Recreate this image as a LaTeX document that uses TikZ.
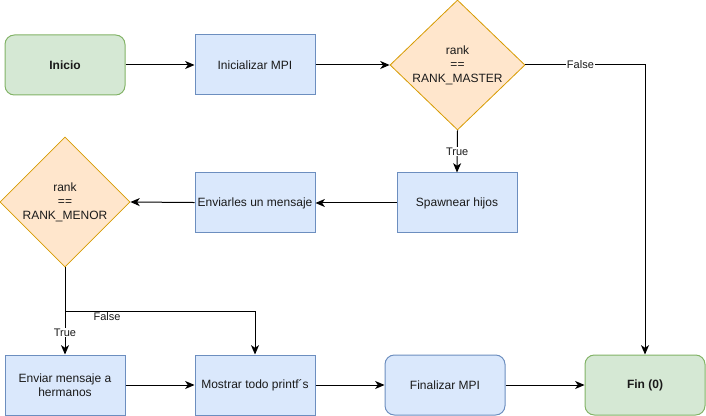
\documentclass[tikz,border=0pt]{standalone}
\usepackage{fontspec}
\setmainfont{Liberation Sans}
\usetikzlibrary{shapes.geometric,arrows.meta}
\definecolor{gfill}{HTML}{D5E8D4}
\definecolor{gline}{HTML}{82B366}
\definecolor{bfill}{HTML}{DAE8FC}
\definecolor{bline}{HTML}{6C8EBF}
\definecolor{ofill}{HTML}{FFE6CC}
\definecolor{oline}{HTML}{D79B00}
\definecolor{txt}{HTML}{1A1A1A}
\tikzset{
  base/.style={draw, line width=0.75pt, minimum width=90pt, minimum height=45pt, inner sep=0pt, align=center, font=\fontsize{9pt}{10.5pt}\selectfont, text=txt},
  startbox/.style={base, fill=gfill, draw=gline, rounded corners=7pt, font=\fontsize{9pt}{10.5pt}\selectfont\bfseries},
  procbox/.style={base, fill=bfill, draw=bline},
  roundproc/.style={base, fill=bfill, draw=bline, rounded corners=7pt},
  decision/.style={draw=oline, fill=ofill, line width=0.6pt, diamond, inner sep=0pt, align=center, font=\fontsize{9pt}{10.5pt}\selectfont, text=txt},
  conn/.style={line width=0.75pt, -{Stealth[length=7pt,width=6pt,inset=2pt]}},
  elabel/.style={fill=white, inner sep=0.5pt, font=\fontsize{8.25pt}{9pt}\selectfont, text=txt}
}
\begin{document}
\begin{tikzpicture}[x=0.75pt,y=-0.75pt]
\useasboundingbox (0,0) rectangle (706,416);
\node[startbox] (inicio) at (65,65) {Inicio};
\node[procbox] (init) at (255,65) {Inicializar MPI};
\node[decision, minimum width=101.25pt, minimum height=97.5pt] (d1) at (457.5,65) {rank\\==\\RANK\_MASTER};
\node[procbox] (spawn) at (457,203) {Spawnear hijos};
\node[procbox] (envmsg) at (255,203) {Enviarles un mensaje};
\node[decision, minimum width=97.5pt, minimum height=97.5pt] (d2) at (65,202) {rank\\==\\RANK\_MENOR};
\node[procbox] (enviar) at (65,385) {Enviar mensaje a\\hermanos};
\node[procbox] (mostrar) at (255,385) {Mostrar todo printf´s};
\node[roundproc] (final) at (445,385) {Finalizar MPI};
\node[startbox] (fin) at (645,385) {Fin (0)};
\coordinate (br) at (65,311.5);

\draw[conn] (inicio) -- (init);
\draw[conn] (init) -- (d1.west);
\draw[conn] (d1.east) -| (fin.north) node[elabel, pos=0.23] {False};
\draw[conn] (d1.south) -- (spawn.north) node[elabel, midway] {True};
\draw[conn] (spawn) -- (envmsg);
\draw[conn] (envmsg) -- (d2.east);
\draw[conn] (d2.south) -- (enviar.north) node[elabel, pos=0.75] {True};
\draw[conn] (br) -| (mostrar.north);
\node[elabel] (flab) at (107,317) {False};
\draw[conn] (enviar) -- (mostrar);
\draw[conn] (mostrar) -- (final);
\draw[conn] (final) -- (fin);
\end{tikzpicture}
\end{document}
